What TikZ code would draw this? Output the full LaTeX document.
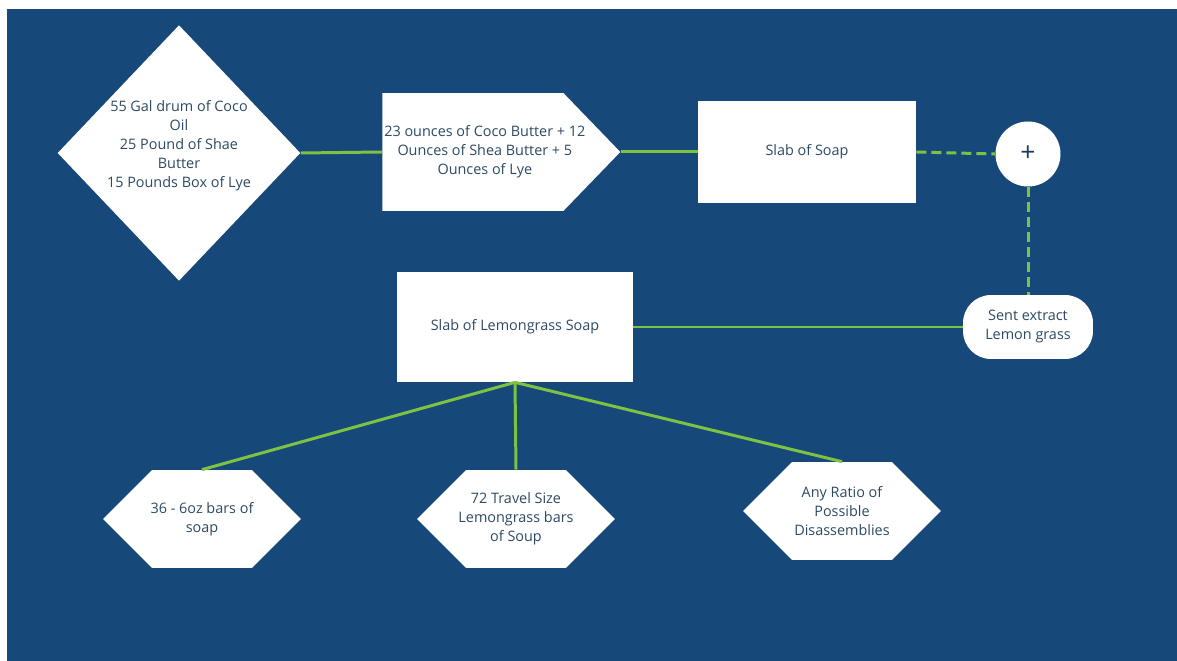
\documentclass[tikz,border=0pt]{standalone}
\usepackage{fontspec}
\setmainfont{Open Sans}
\usetikzlibrary{shapes.geometric,shapes.symbols}
\definecolor{bgblue}{HTML}{17487A}
\definecolor{linkgreen}{HTML}{7DC242}
\definecolor{inktext}{HTML}{2E4A62}
\definecolor{plusnavy}{HTML}{1B3A5C}
\begin{document}
\begin{tikzpicture}[x=0.02cm,y=-0.02cm]
  \tikzset{
    every node/.style={inner sep=0pt, fill=white, text=inktext, align=center,
      font=\fontsize{8.2}{10.8}\selectfont},
    link/.style={linkgreen, line width=1.7pt},
    dashlink/.style={link, dash pattern=on 0.2cm off 0.1cm},
    slabbox/.style={rectangle},
    hexbox/.style={rectangle, fill=bgblue, minimum width=3.96cm, minimum height=1.96cm,
      path picture={\fill[white] (path picture bounding box.west)
        -- ([xshift=0.98cm]path picture bounding box.north west)
        -- ([xshift=-0.98cm]path picture bounding box.north east)
        -- (path picture bounding box.east)
        -- ([xshift=-0.98cm]path picture bounding box.south east)
        -- ([xshift=0.98cm]path picture bounding box.south west) -- cycle;}}
  }
  \useasboundingbox (0,0) rectangle (1177,661);
  \fill[white] (0,0) rectangle (1177,661);
  \fill[bgblue] (7,9) rectangle (1177,661);

  % raw stock and the measured batch
  \node[diamond, aspect=0.95, minimum width=4.74cm, minimum height=5.04cm] (oils) at (179,153)
    {55 Gal drum of Coco\\Oil\\25 Pound of Shae\\Butter\\15 Pounds Box of Lye\\[-1pt]\mbox{}};
  \node[signal, signal to=east, signal pointer angle=92, minimum width=4.76cm,
    minimum height=2.36cm, anchor=west,
    label={[name=batchtext, xshift=0.24cm]center:23 ounces of Coco Butter + 12\\Ounces of Shea Butter + 5\\Ounces of Lye}]
    (batch) at (382,152) {};
  \node[slabbox, minimum width=4.36cm, minimum height=2.04cm] (slab) at (807,152) {Slab of Soap};
  \node[circle, minimum size=1.3cm, text=plusnavy, font=\fontsize{15}{15}\selectfont] (mix) at (1028,154) {+};
  \node[rounded corners=0.56cm, minimum width=2.6cm, minimum height=1.28cm] (scent) at (1028,327)
    {Sent extract\\Lemon grass};
  \node[slabbox, minimum width=4.72cm, minimum height=2.2cm] (lemon) at (515,327) {Slab of Lemongrass Soap};

  % what the slab is cut into
  \node[hexbox] (bars) at (202,519) {36 - 6oz bars of\\soap};
  \node[hexbox] (travel) at (516,519) {72 Travel Size\\Lemongrass bars\\of Soup};
  \node[hexbox] (ratio) at (842,511) {Any Ratio of\\Possible\\Disassemblies};

  \draw[link] (oils.east) -- (batch.west);
  \draw[link] (batch.east) -- (slab.west);
  \draw[dashlink] (slab.east) -- (mix.west);
  \draw[dashlink] (mix.south) -- (scent.north);
  \draw[link] (scent.west) -- (lemon.east);
  \foreach \cut in {bars,travel,ratio}
    \draw[link] (lemon.south) -- (\cut.north);
\end{tikzpicture}
\end{document}
